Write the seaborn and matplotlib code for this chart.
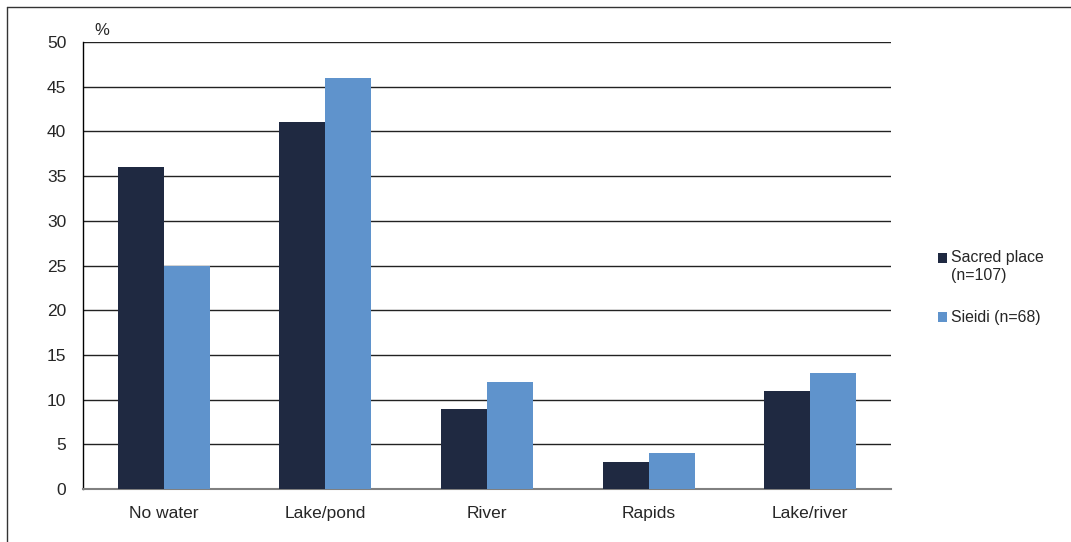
import numpy as np
import pandas as pd
import seaborn as sns
import matplotlib.pyplot as plt
from matplotlib.lines import Line2D

categories = ["No water", "Lake/pond", "River", "Rapids", "Lake/river"]
sacred = [36, 41, 9, 3, 11]
sieidi = [25, 46, 12, 4, 13]
series_names = ["Sacred place\n(n=107)", "Sieidi (n=68)"]
colors = ["#1f2941", "#5f93cc"]

df = pd.DataFrame({
    "category": categories * 2,
    "value": sacred + sieidi,
    "series": [series_names[0]] * 5 + [series_names[1]] * 5,
})

sns.set_style("white")
plt.rcParams["font.family"] = ["Liberation Sans", "DejaVu Sans"]

fig = plt.figure(figsize=(10.71, 5.42), dpi=100)
ax = fig.add_axes([83 / 1071, 1 - 489 / 542, (891 - 83) / 1071, (489 - 42) / 542])

sns.barplot(data=df, x="category", y="value", hue="series", palette=colors,
            width=0.57, saturation=1, linewidth=0, ax=ax, zorder=3)

ax.set_ylim(0, 50)
ax.set_xlim(-0.5, 4.5)
ax.set_yticks(range(0, 51, 5))
ax.yaxis.grid(True, color="#222222", linewidth=1, zorder=0)
ax.set_axisbelow(True)
for s in ["top", "right"]:
    ax.spines[s].set_visible(False)
ax.spines["left"].set_color("black")
ax.spines["bottom"].set_color("#808080")
ax.spines["left"].set_linewidth(1)
ax.spines["bottom"].set_linewidth(1.5)

ax.set_xticks(np.arange(-0.5, 5, 1), minor=True)
ax.set_xticks(range(5))
ax.set_xticklabels(categories)
ax.tick_params(axis="x", which="major", length=0, labelsize=12.5, pad=12)
ax.tick_params(axis="x", which="minor", length=5, width=1, color="black", direction="out")
ax.tick_params(axis="y", length=5, width=1, color="black", direction="out", labelsize=12.5, pad=7)
ax.set_xlabel("")
ax.set_ylabel("")
ax.text(0.014, 1.008, "%", transform=ax.transAxes, fontsize=12, va="bottom", ha="left")

handles, labels = ax.get_legend_handles_labels()
leg = ax.legend(handles, labels, loc="center left", bbox_to_anchor=(1.04, 0.45), frameon=False,
                fontsize=11.4, handlelength=0.62, handleheight=0.62, handletextpad=0.25,
                labelspacing=1.75)
# marker of the two-line entry sits on its first line
r = leg.legend_handles[0]
r.set_y(r.get_y() + 6.4)

fig.add_artist(Line2D([7 / 1071, 1], [1 - 7 / 542, 1 - 7 / 542], color="#333333", linewidth=1))
fig.add_artist(Line2D([7 / 1071, 7 / 1071], [0, 1 - 7 / 542], color="#333333", linewidth=1))

fig.savefig("out.png", dpi=100)
